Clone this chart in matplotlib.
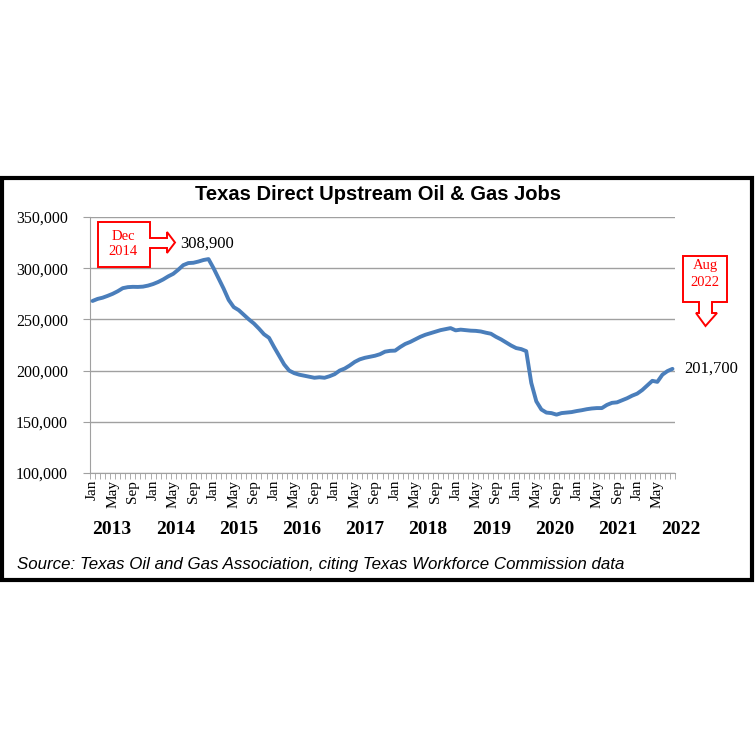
# Texas Direct Upstream Oil & Gas Jobs, monthly, Jan 2013 - Aug 2022
import matplotlib.pyplot as plt
from matplotlib.patches import Polygon, Rectangle
import numpy as np

# jobs in thousands
jobs_2013 = [268.0, 270.0, 271.2, 273.0, 275.0, 277.5, 280.5, 281.5, 281.8, 281.7, 282.0, 283.0]
jobs_2014 = [284.5, 286.5, 289.0, 292.0, 294.5, 298.5, 303.0, 305.0, 305.3, 306.5, 308.0, 308.9]
jobs_2015 = [300.0, 290.0, 280.0, 269.0, 262.0, 259.0, 254.5, 250.0, 246.0, 241.0, 235.5, 232.0]
jobs_2016 = [223.0, 214.5, 206.0, 200.0, 197.5, 196.0, 195.0, 194.0, 193.0, 193.5, 193.0, 194.5]
jobs_2017 = [196.5, 200.0, 202.0, 205.0, 208.5, 211.0, 212.5, 213.5, 214.5, 216.0, 218.5, 219.3]
jobs_2018 = [219.5, 223.0, 226.0, 228.0, 230.5, 233.0, 235.0, 236.5, 238.0, 239.5, 240.5, 241.5]
jobs_2019 = [239.3, 240.0, 239.5, 239.0, 238.8, 238.2, 237.0, 236.0, 233.0, 230.5, 227.5, 224.5]
jobs_2020 = [222.0, 221.0, 219.0, 188.0, 170.0, 162.0, 159.0, 158.5, 157.0, 158.5, 159.0, 159.5]
jobs_2021 = [160.5, 161.3, 162.3, 163.0, 163.4, 163.4, 166.5, 168.5, 169.0, 171.0, 173.0, 175.5]
jobs_2022 = [177.5, 181.0, 185.5, 190.0, 189.0, 196.0, 199.5, 201.7]

years = ['2013', '2014', '2015', '2016', '2017', '2018', '2019', '2020', '2021', '2022']
month_names = ['Jan', 'Feb', 'Mar', 'Apr', 'May', 'Jun',
               'Jul', 'Aug', 'Sep', 'Oct', 'Nov', 'Dec']
y_ticks = [100000, 150000, 200000, 250000, 300000, 350000]

jobs = np.array(jobs_2013 + jobs_2014 + jobs_2015 + jobs_2016 + jobs_2017
                + jobs_2018 + jobs_2019 + jobs_2020 + jobs_2021 + jobs_2022) * 1000
x = np.arange(len(jobs))
labels = [month_names[i % 12] for i in x]

W = H = 756.0
fig = plt.figure(figsize=(7.56, 7.56), dpi=100)


def fx(px):
    return px / W


def fy(py):
    return 1 - py / H


def to_fig(pts):
    return [(fx(a), fy(b)) for a, b in pts]


serif = 'Liberation Serif'
sans = 'Liberation Sans'

ax = fig.add_axes([fx(90), fy(473), fx(675) - fx(90), fy(217) - fy(473)])
ax.plot(x, jobs, color='#4a7ebb', lw=2.8, solid_capstyle='round', zorder=3)
ax.set_xlim(-0.5, len(jobs) - 0.5)
ax.set_ylim(y_ticks[0], y_ticks[-1])
ax.set_yticks(y_ticks)
ax.set_yticklabels(['{:,}'.format(v) for v in y_ticks], fontfamily=serif, fontsize=11.5)
ax.yaxis.grid(True, color='#a0a0a0', lw=1)
ax.set_axisbelow(True)
for s in ['top', 'right']:
    ax.spines[s].set_visible(False)
for s in ['left', 'bottom']:
    ax.spines[s].set_color('#a0a0a0')
ax.tick_params(axis='y', length=5, color='#a0a0a0', pad=11)

major = x[::4]
ax.set_xticks(major)
ax.set_xticklabels([labels[i] for i in major], rotation=90, fontfamily=serif,
                   fontsize=11, va='top', ha='center')
ax.set_xticks(np.arange(-0.5, len(jobs) + 0.5, 1), minor=True)
ax.tick_params(axis='x', which='major', length=0, pad=5)
ax.tick_params(axis='x', which='minor', length=4, color='#a0a0a0')

# value labels
peak = int(np.argmax(jobs))
ax.annotate('{:,}'.format(int(round(jobs[peak]))), xy=(x[peak], jobs[peak]),
            xytext=(-28, 15), textcoords='offset pixels', ha='left', va='center',
            fontfamily=serif, fontsize=12)
ax.annotate('{:,}'.format(int(round(jobs[-1]))), xy=(x[-1], jobs[-1]),
            xytext=(12, 0), textcoords='offset pixels', ha='left', va='center',
            fontfamily=serif, fontsize=12, annotation_clip=False)

# year labels
for i, yr in enumerate(years):
    fig.text(fx(112 + 63.2 * i), fy(530), yr, ha='center', va='center',
             fontfamily=serif, fontweight='bold', fontsize=14)

# callouts
dec_shape = [(98, 222), (150, 222), (150, 238), (167, 238), (167, 232), (175, 242.5),
             (167, 253), (167, 248), (150, 248), (150, 267), (98, 267)]
aug_shape = [(683, 256), (727, 256), (727, 302), (712, 302), (712, 313), (717, 313),
             (705.5, 326), (696, 313), (699, 313), (699, 302), (683, 302)]
for shape in [dec_shape, aug_shape]:
    fig.add_artist(Polygon(to_fig(shape), closed=True, fc='white', ec='#ff0000',
                           lw=1.4, transform=fig.transFigure, zorder=5))
callout_font = dict(color='#ff0000', ha='center', va='center', fontfamily=serif,
                    fontsize=10.5, zorder=6)
fig.text(fx(123), fy(236), 'Dec', **callout_font)
fig.text(fx(123), fy(251), '2014', **callout_font)
fig.text(fx(705), fy(266), 'Aug', **callout_font)
fig.text(fx(705), fy(282), '2022', **callout_font)

fig.text(fx(378), fy(194), 'Texas Direct Upstream Oil & Gas Jobs', ha='center',
         va='center', fontfamily=sans, fontweight='bold', fontsize=14.5)
fig.text(fx(17), fy(564), 'Source: Texas Oil and Gas Association, citing Texas '
         'Workforce Commission data', ha='left', va='center', fontfamily=sans,
         style='italic', fontsize=12.2)

# outer frame
fig.add_artist(Rectangle((fx(2), fy(580)), fx(752) - fx(2), fy(178) - fy(580),
                         fill=False, ec='black', lw=3, transform=fig.transFigure))

fig.savefig('out.png', dpi=100)
